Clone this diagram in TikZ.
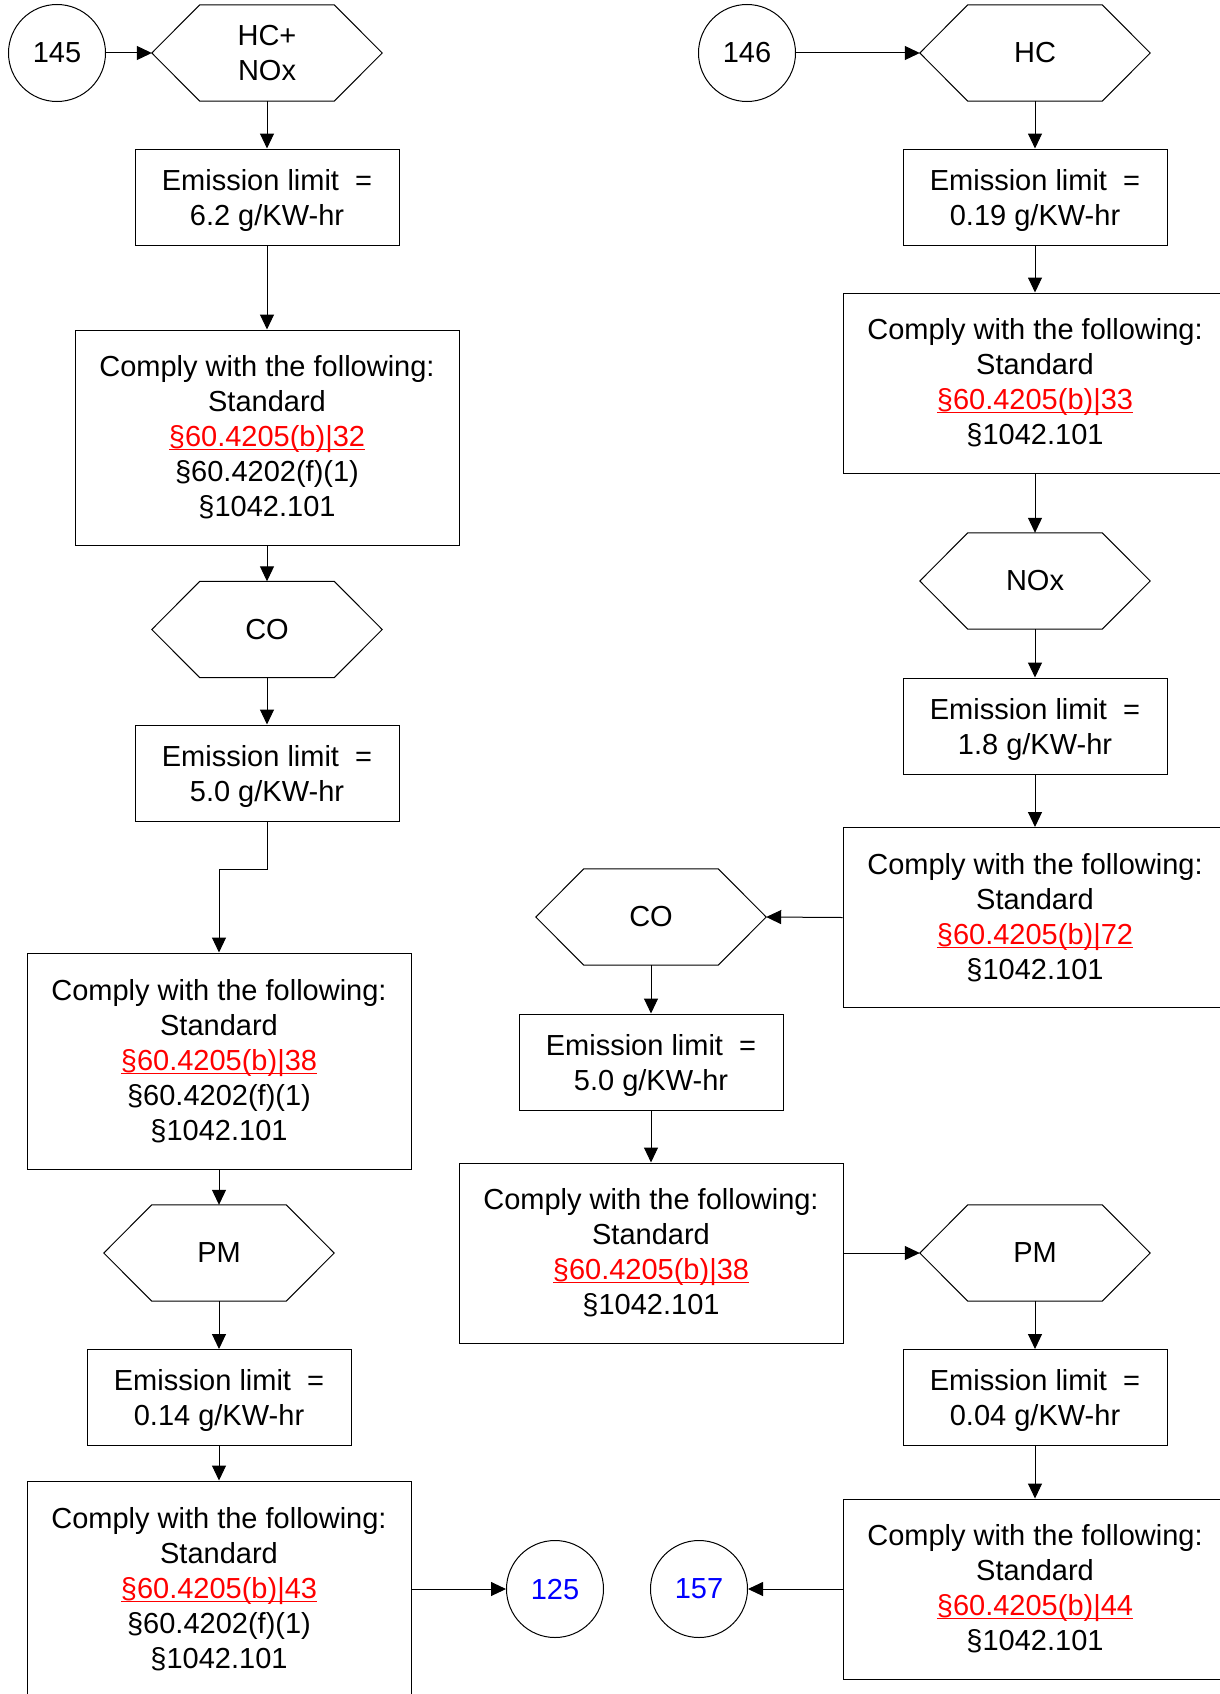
\documentclass[tikz,border=0pt]{standalone}
\usepackage{fontspec}
\setmainfont{Liberation Sans}
\usetikzlibrary{arrows.meta}
\newcommand\reflink[1]{\textcolor{red}{\setbox0\hbox{#1}\rlap{\rule[-3.5pt]{\wd0}{1pt}}\box0}}
\begin{document}
\begin{tikzpicture}[x=1pt,y=-1pt,
  every node/.style={font=\fontsize{29}{35}\selectfont, align=center, inner sep=0pt},
  ebox/.style={draw, line width=1pt, minimum width=264pt, minimum height=96pt, text depth=0pt},
  cbox/.style={draw, line width=1pt, minimum width=384pt},
  hexnode/.style={minimum width=230pt, minimum height=96pt},
  circnode/.style={draw, circle, line width=1pt, minimum size=97pt},
  arr/.style={line width=1pt, -{Triangle[length=15pt,width=14pt]}}
]
\useasboundingbox (0,0) rectangle (1220,1694);
\clip (0,0) rectangle (1220,1694);
\fill[white] (0,0) rectangle (1220,1694);

% left column
\node[circnode] (c145) at (57,53) {145};
\node[hexnode] (h1) at (267,53) {HC+\\NOx};
\node[ebox] (e1) at (267,197) {Emission limit\ \ =\\6.2 g/KW-hr};
\node[cbox, minimum height=215pt] (k1) at (267,437.5) {Comply with the following:\\Standard\\\reflink{§60.4205(b)|32}\\§60.4202(f)(1)\\§1042.101};
\node[hexnode] (h2) at (267,629.5) {CO};
\node[ebox] (e2) at (267,773) {Emission limit\ \ =\\5.0 g/KW-hr};
\node[cbox, minimum height=216pt] (k2) at (219,1061) {Comply with the following:\\Standard\\\reflink{§60.4205(b)|38}\\§60.4202(f)(1)\\§1042.101};
\node[hexnode] (h3) at (219,1253) {PM};
\node[ebox] (e3) at (219,1397.5) {Emission limit\ \ =\\0.14 g/KW-hr};
\node[cbox, minimum height=216pt] (k3) at (219,1589) {Comply with the following:\\Standard\\\reflink{§60.4205(b)|43}\\§60.4202(f)(1)\\§1042.101};
\node[circnode, text=blue] (c125) at (555,1589) {125};

% right column
\node[circnode] (c146) at (747,53) {146};
\node[hexnode] (h4) at (1035,53) {HC};
\node[ebox] (e4) at (1035,197) {Emission limit\ \ =\\0.19 g/KW-hr};
\node[cbox, minimum height=180pt] (k4) at (1035,383) {Comply with the following:\\Standard\\\reflink{§60.4205(b)|33}\\§1042.101};
\node[hexnode] (h5) at (1035,581) {NOx};
\node[ebox] (e5) at (1035,726) {Emission limit\ \ =\\1.8 g/KW-hr};
\node[cbox, minimum height=180pt] (k5) at (1035,917.5) {Comply with the following:\\Standard\\\reflink{§60.4205(b)|72}\\§1042.101};
\node[hexnode] (h6) at (651,917) {CO};
\node[ebox] (e6) at (651,1062) {Emission limit\ \ =\\5.0 g/KW-hr};
\node[cbox, minimum height=180pt] (k6) at (651,1253) {Comply with the following:\\Standard\\\reflink{§60.4205(b)|38}\\§1042.101};
\node[hexnode] (h7) at (1035,1253) {PM};
\node[ebox] (e7) at (1035,1397.5) {Emission limit\ \ =\\0.04 g/KW-hr};
\node[cbox, minimum height=180pt] (k7) at (1035,1589) {Comply with the following:\\Standard\\\reflink{§60.4205(b)|44}\\§1042.101};
\node[circnode, text=blue] (c157) at (699,1589) {157};

% hexagon outlines
\foreach \h in {h1,h2,h3,h4,h5,h6,h7}{
  \draw[line width=1pt, line join=miter] (\h.west) -- ([xshift=48pt]\h.north west) -- ([xshift=-48pt]\h.north east)
    -- (\h.east) -- ([xshift=-48pt]\h.south east) -- ([xshift=48pt]\h.south west) -- cycle;
}

% connectors left
\draw[arr] (c145) -- (h1.west);
\draw[arr] (h1.south) -- (e1.north);
\draw[arr] (e1.south) -- (k1.north);
\draw[arr] (k1.south) -- (h2.north);
\draw[arr] (h2.south) -- (e2.north);
\draw[arr] (e2.south) -- ++(0,48) -| (k2.north);
\draw[arr] (k2.south) -- (h3.north);
\draw[arr] (h3.south) -- (e3.north);
\draw[arr] (e3.south) -- (k3.north);
\draw[arr] (k3.east) -- (c125.west);

% connectors right
\draw[arr] (c146) -- (h4.west);
\draw[arr] (h4.south) -- (e4.north);
\draw[arr] (e4.south) -- (k4.north);
\draw[arr] (k4.south) -- (h5.north);
\draw[arr] (h5.south) -- (e5.north);
\draw[arr] (e5.south) -- (k5.north);
\draw[arr] (k5.west) -- (h6.east);
\draw[arr] (h6.south) -- (e6.north);
\draw[arr] (e6.south) -- (k6.north);
\draw[arr] (k6.east) -- (h7.west);
\draw[arr] (h7.south) -- (e7.north);
\draw[arr] (e7.south) -- (k7.north);
\draw[arr] (k7.west) -- (c157.east);
\end{tikzpicture}
\end{document}
